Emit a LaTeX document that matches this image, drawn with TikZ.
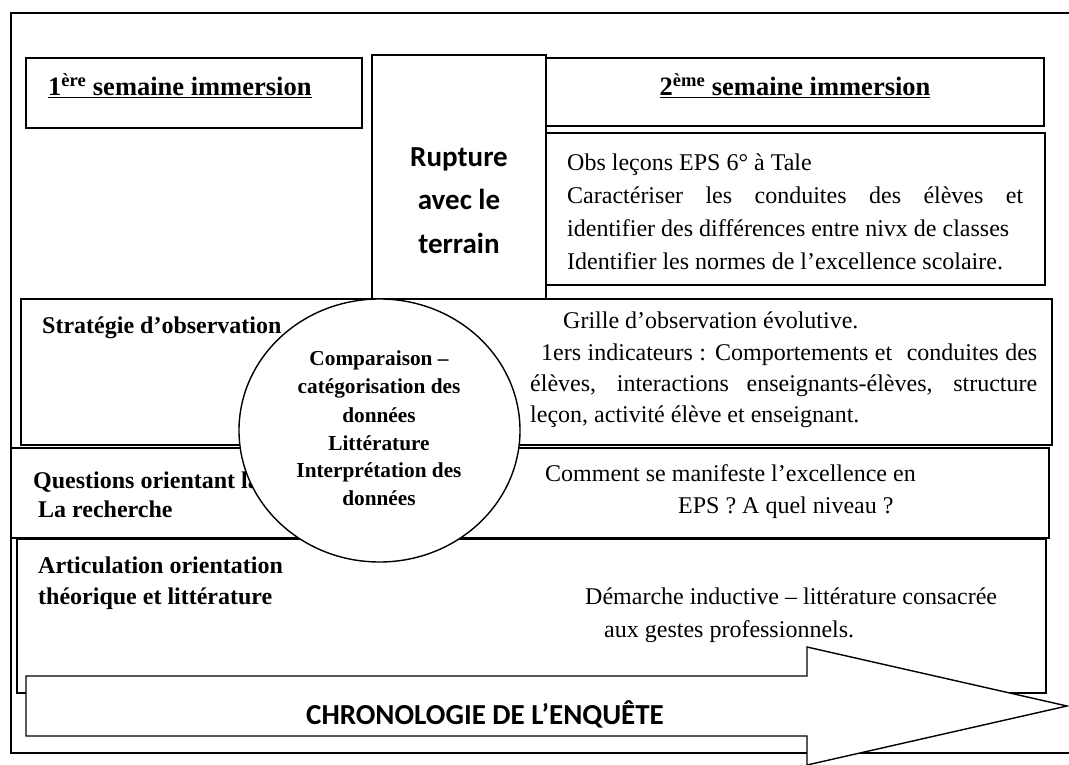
\documentclass[tikz,border=0pt]{standalone}
\usepackage{fontspec}
\setmainfont{Liberation Serif}
\newfontfamily\calibri{Carlito}
\usetikzlibrary{shapes.geometric}
\begin{document}
\begin{tikzpicture}[x=1pt,y=-1pt,
  box/.style={draw,line width=1.4pt,anchor=north west,inner sep=0pt,outer sep=0pt},
  txt/.style={anchor=base west,inner sep=0pt,font=\fontsize{24}{30}\selectfont},
  btxt/.style={anchor=base west,inner sep=0pt,font=\fontsize{24}{30}\selectfont\bfseries},
  head/.style={anchor=base,inner sep=0pt,font=\fontsize{26.5}{30}\selectfont\bfseries},
  rup/.style={anchor=base,inner sep=0pt,font=\fontsize{29}{34}\selectfont\calibri\bfseries},
  ctxt/.style={anchor=base,inner sep=0pt,font=\fontsize{21.3}{26}\selectfont\bfseries}]
\useasboundingbox (0,0) rectangle (1069,765);
% outer frame
\draw[line width=1.4pt] (1075,13) -- (11,13) -- (11,753) -- (1075,753);
% top row
\node[box,minimum width=336pt,minimum height=70pt] (b1) at (26,58) {};
\node[head,anchor=base west] (h1) at (48,96) {\underline{1\textsuperscript{ère} semaine immersion}};
\node[box,minimum width=174pt,minimum height=244pt] (rb) at (372,55) {};
\node[rup] (r1) at (459,167) {Rupture};
\node[rup] (r2) at (459,210) {avec le};
\node[rup] (r3) at (459,253) {terrain};
\node[box,minimum width=498pt,minimum height=68pt] (b2) at (546,58) {};
\node[head] (h2) at (795,96) {\underline{2\textsuperscript{ème} semaine immersion}};
\node[box,minimum width=499pt,minimum height=152pt] (ob) at (546,133) {};
\node[txt] (o1) at (567,171) {Obs leçons EPS 6° à Tale};
\node[txt] (o2) at (567,204) {\makebox[456pt][s]{Caractériser les conduites des élèves et}};
\node[txt] (o3) at (567,236.5) {identifier des différences entre nivx de classes};
\node[txt] (o4) at (567,269) {Identifier les normes de l’excellence scolaire.};
% strategie
\node[box,fill=white,minimum width=1031pt,minimum height=146pt] (sb) at (21,299) {};
\node[btxt] (s0) at (42,333) {Stratégie d’observation};
\node[txt] (s1) at (563,328) {Grille d’observation évolutive.};
\node[txt] (s2) at (541,360) {\makebox[496pt][s]{1ers indicateurs : Comportements et\hspace{8pt} conduites des}};
\node[txt] (s3) at (530,391) {\makebox[507pt][s]{élèves, interactions enseignants-élèves, structure}};
\node[txt] (s4) at (530,422) {leçon, activité élève et enseignant.};
% questions
\node[box,minimum width=1038pt,minimum height=90pt] (qb) at (11,448) {};
\node[btxt] (q1) at (33,488) {Questions orientant la};
\node[btxt] (q2) at (38,517) {La recherche};
\node[txt] (q3) at (545,481) {Comment se manifeste l’excellence en};
\node[txt] (q4) at (678,513) {EPS ? A quel niveau ?};
% articulation
\node[box,minimum width=1029pt,minimum height=154pt] (ab) at (17,539) {};
\node[btxt] (a1) at (38,573) {Articulation orientation};
\node[btxt] (a2) at (38,604) {théorique et littérature};
\node[txt] (a3) at (585,604) {Démarche inductive – littérature consacrée};
\node[txt] (a4) at (604,637) {aux gestes professionnels.};
% circle
\node[draw,ellipse,fill=white,line width=1.4pt,minimum width=281pt,minimum height=263pt,inner sep=0pt] (cc) at (379.5,430.5) {};
\node[ctxt] (c1) at (379,365) {Comparaison –};
\node[ctxt] (c2) at (379,393) {catégorisation des};
\node[ctxt] (c3) at (379,422) {données};
\node[ctxt] (c4) at (379,450) {Littérature};
\node[ctxt] (c5) at (379,477) {Interprétation des};
\node[ctxt] (c6) at (379,505) {données};
% arrow
\draw[line width=1.4pt,fill=white] (26,676) -- (807,676) -- (807,647) -- (1067,706) -- (807,765) -- (807,736) -- (26,736) -- cycle;
\node[anchor=base,inner sep=0pt,font=\fontsize{29}{34}\selectfont\calibri\bfseries] (ch) at (485,724) {CHRONOLOGIE DE L’ENQUÊTE};
\end{tikzpicture}
\end{document}
